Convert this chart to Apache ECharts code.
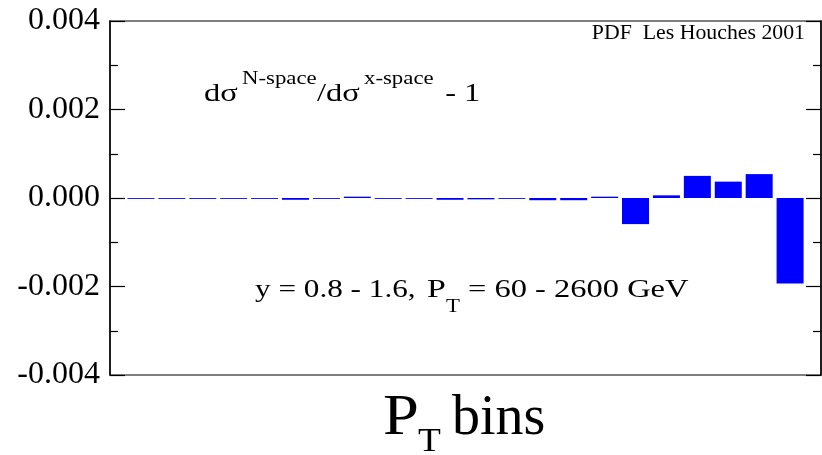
<!DOCTYPE html>
<html>
<head>
<meta charset="utf-8">
<script src="https://cdn.jsdelivr.net/npm/echarts@6/dist/echarts.min.js"></script>
<style>html,body{margin:0;padding:0;background:#fff}#c{width:822px;height:455px}</style>
</head>
<body>
<div id="c"></div>
<script>
// P_T bin index (1..22)
var bins = [1,2,3,4,5,6,7,8,9,10,11,12,13,14,15,16,17,18,19,20,21,22];
// dσ(N-space)/dσ(x-space) - 1
var ratioMinusOne = [-0.00002,-0.00002,-0.00002,-0.00002,-0.00002,-0.00004,-0.00002,0.00003,-0.00002,-0.00002,-0.00004,
  -0.00003,-0.00002,-0.00005,-0.00005,0.00003,-0.00059,0.00006,0.00050,0.00037,0.00054,-0.00193];
var yTickValues = [-0.004,-0.002,0,0.002,0.004];
var yTickLabels = ['-0.004','-0.002','0.000','0.002','0.004'];

var serif = '"Liberation Serif","DejaVu Serif",serif';
var data = bins.map(function(b,i){return [b, ratioMinusOne[i]];});

function labelFor(v){
  for (var i=0;i<yTickValues.length;i++){ if (Math.abs(v-yTickValues[i])<1e-9) return yTickLabels[i]; }
  return '';
}
function txt(x, y, s, size, sx, align){
  return {type:'text', x:x, y:y, scaleX:sx||1, silent:true,
    style:{text:s, font: size+'px '+serif, fill:'#000', align:align||'left', verticalAlign:'middle'}};
}

var chart = echarts.init(document.getElementById('c'));
var yBase = {
  type:'value', min:-0.004, max:0.004, interval:0.002,
  axisLine:{show:true, onZero:false, lineStyle:{color:'#000', width:1.5}},
  axisTick:{show:true, inside:true, length:15, lineStyle:{color:'#000', width:1.2}},
  minorTick:{show:true, splitNumber:2, length:8, lineStyle:{color:'#000', width:1.2}},
  splitLine:{show:false}
};
chart.setOption({
  animation:false,
  grid:{left:110, right:1, top:21, bottom:80, show:true, borderColor:'#555', borderWidth:1.5, containLabel:false},
  xAxis:{type:'value', min:0, max:23, show:true,
    axisLine:{show:false}, axisTick:{show:false}, axisLabel:{show:false}, splitLine:{show:false}},
  yAxis:[
    Object.assign({}, yBase, {position:'left',
      axisLabel:{show:true, margin:10, fontFamily:serif, fontSize:32, color:'#000', formatter:labelFor}}),
    Object.assign({}, yBase, {position:'right', axisLabel:{show:false}})
  ],
  series:[{
    type:'bar', data:data, barWidth:27, yAxisIndex:0,
    itemStyle:{color:'#0000ff'}, silent:true
  }],
  graphic:[
    txt(805, 33.5, 'PDF  Les Houches 2001', 20, 1.09, 'right'),
    txt(204, 94.5, 'dσ', 26, 1.25),
    txt(242, 79.5, 'N-space', 19, 1.2),
    txt(317, 94.5, '/dσ', 26, 1.25),
    txt(364, 79.5, 'x-space', 19, 1.2),
    txt(437, 94.5, ' - 1', 26, 1.25),
    txt(255, 290, 'y = 0.8 - 1.6,', 26, 1.2),
    txt(427, 290, 'P', 26, 1.3),
    txt(446, 307, 'T', 19, 1.2),
    txt(468, 290, '= 60 - 2600 GeV', 26, 1.25),
    txt(383, 419, 'P', 56, 1.15),
    txt(418, 442, 'T', 34, 1.1),
    txt(452, 419, 'bins', 56, 1.0)
  ]
});
</script>
</body>
</html>
